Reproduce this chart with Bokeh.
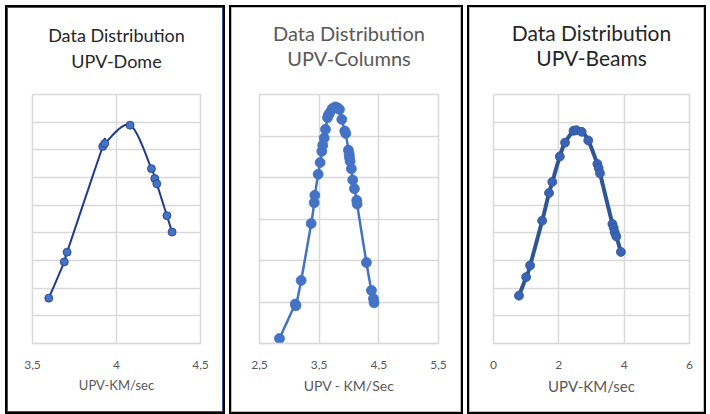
import numpy as np
from bokeh.plotting import figure
from bokeh.layouts import row
from bokeh.models import FixedTicker, Title
from bokeh.embed import file_html
from bokeh.resources import INLINE

# ---------------- data ----------------
dome_x = [3.597, 3.689, 3.706, 3.918, 3.930, 4.081, 4.208, 4.228, 4.240, 4.300, 4.331]
dome_y = [0.328, 0.590, 0.660, 1.424, 1.446, 1.578, 1.264, 1.192, 1.154, 0.924, 0.806]

col_x = [2.835, 3.100, 3.110, 3.198, 3.366, 3.416, 3.427, 3.483, 3.516, 3.544, 3.560, 3.584,
         3.606, 3.640, 3.656, 3.684, 3.720, 3.768, 3.807, 3.840, 3.879, 3.929, 3.946, 3.990,
         4.003, 4.008, 4.019, 4.040, 4.063, 4.091, 4.130, 4.136, 4.292, 4.376, 4.410, 4.420]
col_y = [0.024, 0.190, 0.182, 0.304, 0.578, 0.678, 0.714, 0.816, 0.872, 0.926, 0.956, 0.990,
         1.032, 1.088, 1.102, 1.114, 1.132, 1.140, 1.136, 1.128, 1.080, 1.024, 1.012, 0.932,
         0.912, 0.896, 0.878, 0.842, 0.788, 0.746, 0.690, 0.672, 0.390, 0.256, 0.216, 0.196]

beam_x = [0.78, 1.00, 1.12, 1.49, 1.70, 1.80, 2.03, 2.19, 2.45, 2.54, 2.70, 2.90, 3.18, 3.22,
          3.26, 3.64, 3.68, 3.71, 3.76, 3.90]
beam_y = [0.0865, 0.120, 0.141, 0.222, 0.272, 0.292, 0.338, 0.363, 0.3845, 0.3855, 0.3825,
          0.367, 0.3245, 0.317, 0.3075, 0.216, 0.209, 0.201, 0.1935, 0.1655]

dome_xticks = [3.5, 4.0, 4.5]
dome_xlabels = ["3,5", "4", "4,5"]
col_xticks = [2.5, 3.5, 4.5, 5.5]
col_xlabels = ["2,5", "3,5", "4,5", "5,5"]
beam_xticks = [0, 2, 4, 6]
beam_xlabels = ["0", "2", "4", "6"]

dome_yticks = [round(0.2 * i, 2) for i in range(10)]
col_yticks = [round(0.2 * i, 2) for i in range(7)]
beam_yticks = [round(0.05 * i, 2) for i in range(10)]

titles = [("Data Distribution", "UPV-Dome"),
          ("Data Distribution", "UPV-Columns"),
          ("Data Distribution", "UPV-Beams")]
xlabels = ["UPV-KM/sec", "UPV - KM/Sec", "UPV-KM/sec"]

FONT = "Lato"


def smooth(xs, ys, n=16):
    """Catmull-Rom smoothing through the points (like a smoothed scatter line)."""
    pts = list(zip(xs, ys))
    ox, oy = [], []
    m = len(pts)
    for i in range(m - 1):
        p0 = pts[i - 1] if i > 0 else pts[i]
        p1 = pts[i]
        p2 = pts[i + 1]
        p3 = pts[i + 2] if i + 2 < m else pts[i + 1]
        for t in np.linspace(0, 1, n, endpoint=False):
            t2, t3 = t * t, t * t * t
            for k, arr in ((0, ox), (1, oy)):
                v = 0.5 * ((2 * p1[k]) + (-p0[k] + p2[k]) * t +
                           (2 * p0[k] - 5 * p1[k] + 4 * p2[k] - p3[k]) * t2 +
                           (-p0[k] + 3 * p1[k] - 3 * p2[k] + p3[k]) * t3)
                arr.append(v)
    ox.append(pts[-1][0])
    oy.append(pts[-1][1])
    return ox, oy


def panel(xs, ys, xr, yr, xticks, xlabs, yticks, ttl, xlabel, w, h, ml, mr, mt, mb,
          line_color, line_width, marker_color, marker_size, title_color, title_size,
          standoffs, axis_title_size, inner_border):
    p = figure(width=w, height=h, x_range=xr, y_range=yr, output_backend="svg",
               toolbar_location=None, min_border_left=ml, min_border_right=mr,
               min_border_top=mt, min_border_bottom=mb,
               styles={"border": "1px solid " + inner_border, "outline": "2px solid #000000"})
    p.background_fill_color = "white"
    p.border_fill_color = "white"
    p.outline_line_color = "#D9D9D9"
    p.outline_line_width = 1.5

    # second line first (closest to the plot), then the first line above it
    p.add_layout(Title(text=ttl[1], align="center", text_font=FONT,
                       text_font_size=title_size, text_font_style="normal",
                       text_color=title_color, standoff=standoffs[1]), "above")
    p.add_layout(Title(text=ttl[0], align="center", text_font=FONT,
                       text_font_size=title_size, text_font_style="normal",
                       text_color=title_color, standoff=standoffs[0]), "above")

    p.yaxis.visible = False
    p.xaxis.ticker = FixedTicker(ticks=xticks)
    p.xaxis.major_label_overrides = {t: l for t, l in zip(xticks, xlabs)}
    p.xaxis.major_tick_line_color = None
    p.xaxis.minor_tick_line_color = None
    p.xaxis.axis_line_color = "#D9D9D9"
    p.xaxis.axis_line_width = 1.5
    p.xaxis.major_label_standoff = 11
    p.xaxis.major_label_text_font = FONT
    p.xaxis.major_label_text_font_size = "12px"
    p.xaxis.major_label_text_color = "#595959"
    p.xaxis.axis_label = xlabel
    p.xaxis.axis_label_text_font = FONT
    p.xaxis.axis_label_text_font_size = axis_title_size
    p.xaxis.axis_label_text_font_style = "normal"
    p.xaxis.axis_label_text_color = "#595959"
    p.xaxis.axis_label_standoff = 5

    p.xgrid.ticker = FixedTicker(ticks=xticks)
    p.ygrid.ticker = FixedTicker(ticks=yticks)
    for g in (p.xgrid, p.ygrid):
        g.grid_line_color = "#D9D9D9"
        g.grid_line_width = 1.5

    sx, sy = smooth(xs, ys)
    p.line(sx, sy, line_color=line_color, line_width=line_width)
    p.scatter(xs, ys, size=marker_size, fill_color=marker_color, line_color=line_color,
              line_width=0.8)
    return p


p1 = panel(dome_x, dome_y, (3.5, 4.5), (0, 1.8), dome_xticks, dome_xlabels, dome_yticks,
           titles[0], xlabels[0], 216, 405, 24, 24, 85, 70,
           "#1F3C88", 2.0, "#4472C4", 8, "#262626", "18px", (-42, 46), "13px", "#2F5597")
p2 = panel(col_x, col_y, (2.5, 5.5), (0, 1.2), col_xticks, col_xlabels, col_yticks,
           titles[1], xlabels[1], 230, 405, 27, 24, 86, 70,
           "#4472C4", 2.5, "#4472C4", 10, "#595959", "20px", (-52, 50), "14px", "#BFBFBF")
p3 = panel(beam_x, beam_y, (0, 6), (0, 0.45), beam_xticks, beam_xlabels, beam_yticks,
           titles[2], xlabels[2], 235, 405, 23, 16, 85, 69,
           "#2F5597", 4.0, "#3A63B5", 9, "#262626", "21px", (-54, 50), "15px", "#BFBFBF")

layout = row(p1, p2, p3, spacing=8, margin=(7, 0, 0, 7))

open("out.html", "w").write(file_html(layout, INLINE))
